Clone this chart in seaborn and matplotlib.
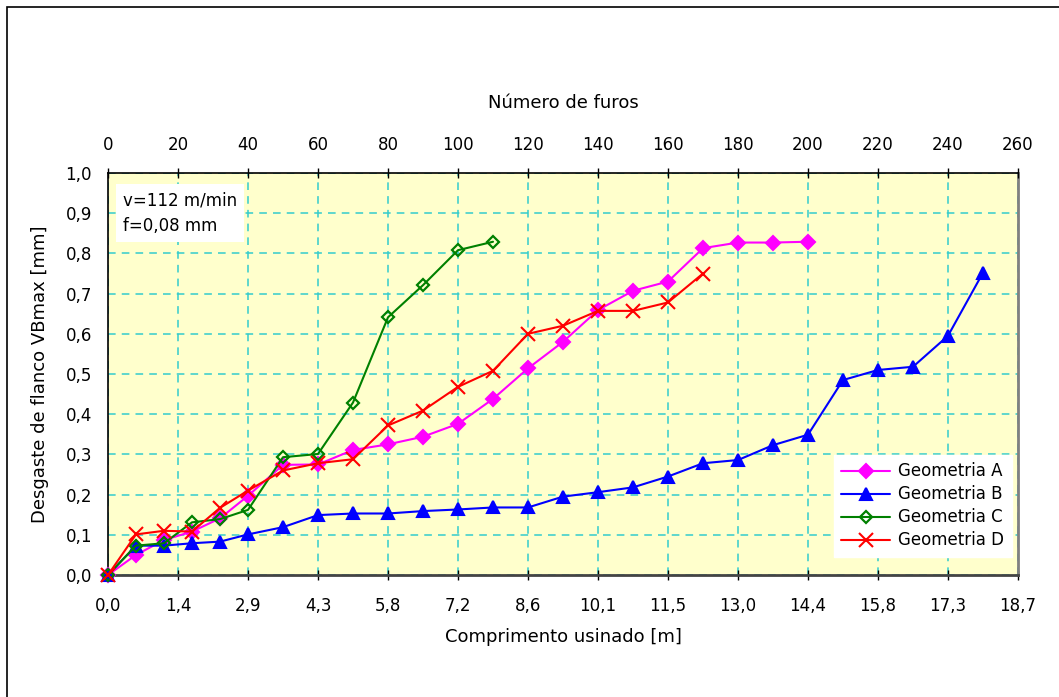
import numpy as np
import pandas as pd
import seaborn as sns
import matplotlib.pyplot as plt
from matplotlib.patches import Rectangle
from matplotlib.ticker import FuncFormatter

# Número de furos (x positions shared by all series)
furos = [0, 8, 16, 24, 32, 40, 50, 60, 70, 80, 90, 100, 110, 120, 130,
         140, 150, 160, 170, 180, 190, 200, 210, 220, 230, 240, 250]

# Desgaste de flanco VBmax [mm]
geom_a = [0.0, 0.05, 0.087, 0.108, 0.141, 0.197, 0.274, 0.275, 0.311, 0.325,
          0.344, 0.376, 0.438, 0.514, 0.580, 0.659, 0.707, 0.730, 0.813,
          0.827, 0.827, 0.829]
geom_b = [0.0, 0.073, 0.073, 0.079, 0.083, 0.101, 0.119, 0.149, 0.153, 0.153,
          0.159, 0.163, 0.168, 0.168, 0.195, 0.206, 0.218, 0.245, 0.278,
          0.286, 0.323, 0.349, 0.485, 0.510, 0.518, 0.595, 0.752]
geom_c = [0.0, 0.073, 0.079, 0.131, 0.139, 0.162, 0.293, 0.301, 0.429, 0.641,
          0.721, 0.808, 0.829]
geom_d = [0.0, 0.101, 0.110, 0.108, 0.167, 0.210, 0.260, 0.278, 0.288, 0.372,
          0.409, 0.468, 0.508, 0.600, 0.620, 0.657, 0.657, 0.678, 0.750]

top_ticks = list(range(0, 261, 20))
bottom_labels = ["0,0", "1,4", "2,9", "4,3", "5,8", "7,2", "8,6", "10,1",
                 "11,5", "13,0", "14,4", "15,8", "17,3", "18,7"]
y_ticks = [round(0.1 * i, 1) for i in range(11)]

series = [
    ("Geometria A", geom_a, "#FF00FF", "D", 7, True),
    ("Geometria B", geom_b, "#0000FF", "^", 8.5, True),
    ("Geometria C", geom_c, "#008000", "D", 6, False),
    ("Geometria D", geom_d, "#FF0000", "x", 10, True),
]

sns.set_style("white")
plt.rcParams['font.family'] = ['DejaVu Sans']
plt.rcParams['text.color'] = 'black'
plt.rcParams['axes.labelcolor'] = 'black'

fig = plt.figure(figsize=(10.59, 6.97), dpi=100)
ax = fig.add_axes([108 / 1059, 1 - 575 / 697, 910 / 1059, 402 / 697])
ax.set_facecolor("#FFFFCC")

for name, vals, color, mk, ms, filled in series:
    df = pd.DataFrame({"furos": furos[:len(vals)], "vb": vals})
    sns.lineplot(data=df, x="furos", y="vb", ax=ax, color=color, marker=mk,
                 markersize=ms, mec=color, mfc=color if filled else "none",
                 mew=1.6 if not filled else 1.5, linewidth=1.5, label=name,
                 clip_on=False, zorder=3)

ax.set_xlim(0, 260)
ax.set_ylim(0, 1.0)
ax.set_xticks(top_ticks)
ax.set_xticklabels(bottom_labels)
ax.set_yticks(y_ticks)
ax.yaxis.set_major_formatter(FuncFormatter(lambda v, p: f"{v:.1f}".replace(".", ",")))
ax.grid(True, color="#33CCCC", linestyle=(0, (5, 4)), linewidth=1.1)
ax.tick_params(axis="both", direction="inout", length=7, width=1,
               labelsize=12, colors="black", pad=8)
ax.tick_params(axis="x", pad=12)

for side in ["left", "top"]:
    ax.spines[side].set_color("black")
    ax.spines[side].set_linewidth(1.2)
for side in ["right", "bottom"]:
    ax.spines[side].set_color("#444444")
    ax.spines[side].set_linewidth(2)
ax.spines["right"].set_color("#808080")

ax.set_xlabel("Comprimento usinado [m]", fontsize=13, labelpad=10)
ax.set_ylabel("Desgaste de flanco VBmax [mm]", fontsize=13, labelpad=12)

top = ax.twiny()
top.set_xlim(ax.get_xlim())
top.set_xticks(top_ticks)
top.set_xticklabels([str(t) for t in top_ticks])
top.tick_params(axis="x", direction="inout", length=7, width=1,
                labelsize=12, pad=10, colors="black")
for s in top.spines.values():
    s.set_visible(False)
top.set_xlabel("Número de furos", fontsize=13, labelpad=20)

leg = ax.legend(loc="lower right", bbox_to_anchor=(0.993, 0.045), frameon=True,
                fancybox=False, edgecolor="white", facecolor="white",
                framealpha=1, fontsize=12, handlelength=2.9, borderaxespad=0,
                labelspacing=0.3, borderpad=0.45, handletextpad=0.5)

ax.text(0.016, 0.955, "v=112 m/min\nf=0,08 mm", transform=ax.transAxes,
        fontsize=12, va="top", ha="left", linespacing=1.55,
        bbox=dict(facecolor="white", edgecolor="none", pad=5))

fig.patches.append(Rectangle((7 / 1059, -0.1), 1.2, 1 - 7 / 697 + 0.1,
                             transform=fig.transFigure, fill=False,
                             edgecolor="black", linewidth=1.2))

fig.savefig("out.png", dpi=100)
